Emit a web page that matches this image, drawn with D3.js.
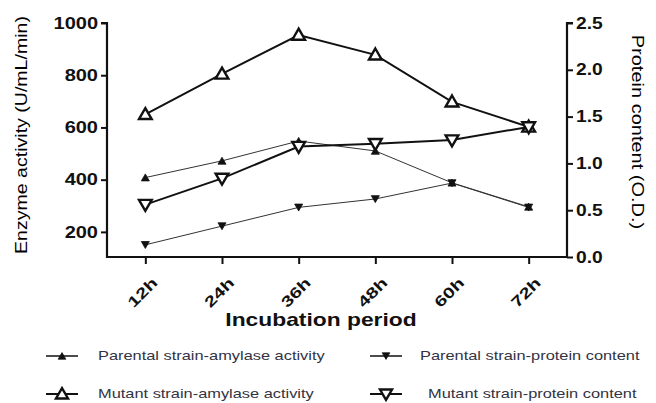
<!DOCTYPE html>
<html>
<head>
<meta charset="utf-8">
<script src="https://cdn.jsdelivr.net/npm/d3@7"></script>
<style>
  body { margin: 0; background: #fff; }
  text { font-family: "Liberation Sans", Arial, sans-serif; }
</style>
</head>
<body>
<script>
// categories and series
var periods = ["12h", "24h", "36h", "48h", "60h", "72h"];
var parentalAmylase = [408, 472, 548, 510, 388, 296];
var parentalProtein = [0.13, 0.33, 0.53, 0.62, 0.79, 0.53];
var mutantAmylase = [650, 805, 954, 878, 698, 602];
var mutantProtein = [0.56, 0.84, 1.18, 1.21, 1.25, 1.39];
var leftTicks = [200, 400, 600, 800, 1000];
var rightTicks = [0, 0.5, 1.0, 1.5, 2.0, 2.5];

var W = 656, H = 403;
var svg = d3.select("body").append("svg")
    .attr("width", W)
    .attr("height", H);

var x = d3.scalePoint().domain(periods).range([107, 567]).padding(0.5);
var yL = d3.scaleLinear().domain([100, 1000]).range([258, 23]);
var yR = d3.scaleLinear().domain([0, 2.5]).range([257, 23]);

// widen text a bit, the original picture is stretched
function stretch(sel, k) {
    sel.each(function() {
        var w = this.getComputedTextLength();
        d3.select(this).attr("textLength", w * k).attr("lengthAdjust", "spacingAndGlyphs");
    });
}

// axes
var gL = svg.append("g").attr("transform", "translate(107,0)")
    .call(d3.axisLeft(yL).tickValues(leftTicks).tickSize(6).tickPadding(3)
        .tickFormat(d3.format("d")));
var gR = svg.append("g").attr("transform", "translate(567,0)")
    .call(d3.axisRight(yR).tickValues(rightTicks).tickSize(6).tickPadding(3)
        .tickFormat(d3.format(".1f")));
var gB = svg.append("g").attr("transform", "translate(0,257)")
    .call(d3.axisBottom(x).tickSize(7).tickPadding(4));

[gL, gR, gB].forEach(function(g) {
    g.select(".domain").attr("stroke", "#111").attr("stroke-width", 2.2);
    g.selectAll(".tick line").attr("stroke", "#111").attr("stroke-width", 2);
    g.selectAll(".tick text").attr("fill", "#111")
        .style("font-size", "16px").style("font-weight", "bold");
});
gL.select(".domain").attr("d", "M-6,23H0V258");
gR.select(".domain").attr("d", "M6,23H0V257");
gB.select(".domain").attr("d", "M107,0H567");
gB.selectAll(".tick text")
    .style("font-size", "15px")
    .attr("text-anchor", "end")
    .attr("y", 0)
    .attr("dy", "0.35em")
    .attr("transform", "translate(9,23) rotate(-45)");
gL.selectAll(".tick text").call(stretch, 1.25);
gR.selectAll(".tick text").call(stretch, 1.2);
gB.selectAll(".tick text").call(stretch, 1.35);

// axis titles
svg.append("text")
    .attr("transform", "translate(27,135) rotate(-90)")
    .attr("text-anchor", "middle")
    .style("font-size", "17px")
    .attr("fill", "#000")
    .text("Enzyme activity (U/mL/min)")
    .call(stretch, 1.15);
svg.append("text")
    .attr("transform", "translate(632,132) rotate(90)")
    .attr("text-anchor", "middle")
    .style("font-size", "16px")
    .attr("fill", "#000")
    .text("Protein content (O.D.)")
    .call(stretch, 1.25);
svg.append("text")
    .attr("x", 321).attr("y", 326)
    .attr("text-anchor", "middle")
    .style("font-size", "19px").style("font-weight", "bold")
    .attr("fill", "#111")
    .text("Incubation period")
    .call(stretch, 1.2);

var series = [
    { name: "Parental strain-amylase activity", vals: parentalAmylase, y: yL, down: false, big: false },
    { name: "Parental strain-protein content", vals: parentalProtein, y: yR, down: true, big: false },
    { name: "Mutant strain-amylase activity", vals: mutantAmylase, y: yL, down: false, big: true },
    { name: "Mutant strain-protein content", vals: mutantProtein, y: yR, down: true, big: true }
];

function drawMarker(g, s, scale) {
    var k = scale || 1;
    g.append("path")
        .attr("d", d3.symbol().type(d3.symbolTriangle).size((s.big ? 70 : 28) * k)())
        .attr("transform", s.down ? "rotate(180)" : null)
        .attr("fill", s.big ? "#fff" : "#111")
        .attr("stroke", "#111")
        .attr("stroke-width", s.big ? 2.4 : 0.8);
}

series.forEach(function(s) {
    var line = d3.line()
        .x(function(d, i) { return x(periods[i]); })
        .y(function(d) { return s.y(d); });
    svg.append("path")
        .datum(s.vals)
        .attr("d", line)
        .attr("fill", "none")
        .attr("stroke", s.big ? "#111" : "#333")
        .attr("stroke-width", s.big ? 2 : 1);
});
series.forEach(function(s) {
    svg.selectAll(null)
        .data(s.vals)
        .enter()
        .append("g")
        .attr("transform", function(d, i) {
            return "translate(" + x(periods[i]) + "," + (s.y(d) + (s.down ? -1 : 1)) + ")";
        })
        .each(function() { drawMarker(d3.select(this), s); });
});

// legend
var legPos = [[62, 356], [386, 356], [62, 394], [386, 394]];
var legText = [98, 420, 98, 428];
series.forEach(function(s, i) {
    var g = svg.append("g").attr("transform", "translate(" + legPos[i][0] + "," + legPos[i][1] + ")");
    g.append("line").attr("x1", -16).attr("x2", 16)
        .attr("stroke", "#111").attr("stroke-width", s.big ? 2 : 1.5);
    var m = g.append("g").attr("transform", "translate(0," + (s.down ? -1 : 1) + ")");
    drawMarker(m, s, 0.9);
    g.append("text")
        .attr("x", legText[i] - legPos[i][0])
        .attr("y", 4)
        .style("font-size", "13px")
        .attr("fill", "#334")
        .text(s.name)
        .call(stretch, 1.26);
});
</script>
</body>
</html>
